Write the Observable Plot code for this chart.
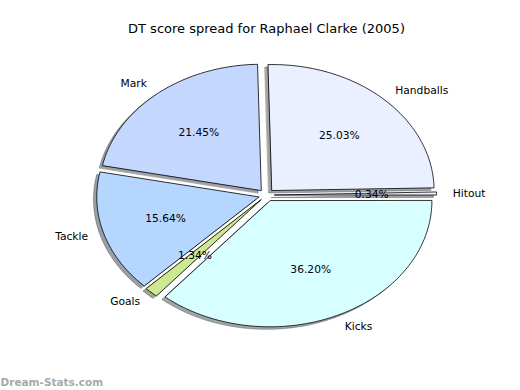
<!DOCTYPE html>
<html><head><meta charset="utf-8">
<script src="https://cdn.jsdelivr.net/npm/d3@7"></script>
<script src="https://cdn.jsdelivr.net/npm/@observablehq/plot@0.6"></script>
<style>body{margin:0;background:#fff;font-family:"DejaVu Sans",sans-serif;}</style>
</head><body><div id="chart"></div>
<script>
const labels = ["Hitout", "Handballs", "Mark", "Tackle", "Goals", "Kicks"];
const values = [0.34, 25.03, 21.45, 15.64, 1.34, 36.20];
const colors = ["#eef0f8", "#eaf0ff", "#c4d8ff", "#b4d6ff", "#cce890", "#d8ffff"];
const title = "DT score spread for Raphael Clarke (2005)";
const watermark = "Dream-Stats.com";
const explode = 0.05, labelDist = 1.1, pctDist = 0.6, shadowOff = -0.02;

const total = d3.sum(values);
let acc = 0;
const slices = values.map((v, i) => {
  const t1 = acc / total * 2 * Math.PI;
  acc += v;
  const t2 = acc / total * 2 * Math.PI;
  const tm = (t1 + t2) / 2;
  const ox = explode * Math.cos(tm), oy = explode * Math.sin(tm);
  const pts = [[ox, oy]];
  const n = Math.max(2, Math.ceil((t2 - t1) / (Math.PI / 180)));
  for (let k = 0; k <= n; k++) {
    const t = t1 + (t2 - t1) * k / n;
    pts.push([ox + Math.cos(t), oy + Math.sin(t)]);
  }
  return {label: labels[i], value: v, color: colors[i], tm, ox, oy, pts};
});

const marks = [];
for (const s of slices) {
  const c = d3.rgb(s.color);
  const sc = d3.rgb(c.r * 0.3, c.g * 0.3, c.b * 0.3);
  marks.push(Plot.line(s.pts, {x: d => d[0] + shadowOff, y: d => d[1] + shadowOff, curve: "linear-closed",
    fill: sc.formatHex(), fillOpacity: 0.5, stroke: sc.formatHex(), strokeOpacity: 0.5, strokeWidth: 0.8}));
}
for (const s of slices) {
  marks.push(Plot.line(s.pts, {x: d => d[0], y: d => d[1], curve: "linear-closed",
    fill: s.color, stroke: "#000", strokeWidth: 0.8}));
}
const labelData = slices.map(s => ({
  x: s.ox + labelDist * Math.cos(s.tm), y: s.oy + labelDist * Math.sin(s.tm), text: s.label
}));
const pctData = slices.map(s => ({
  x: s.ox + pctDist * Math.cos(s.tm), y: s.oy + pctDist * Math.sin(s.tm), text: s.value.toFixed(2) + "%"
}));
marks.push(Plot.text(labelData.filter(d => d.x > 0), {x: "x", y: "y", text: "text", textAnchor: "start", fontSize: 10.7, fill: "#000"}));
marks.push(Plot.text(labelData.filter(d => d.x <= 0), {x: "x", y: "y", text: "text", textAnchor: "end", fontSize: 10.7, fill: "#000"}));
marks.push(Plot.text(pctData, {x: "x", y: "y", text: "text", fontSize: 10.7, fill: "#000"}));
marks.push(Plot.text([title], {x: 0, y: 1.32, text: d => d, fontSize: 13, fill: "#000"}));
marks.push(Plot.text([watermark], {frameAnchor: "bottom-left", dx: 0, dy: -5, text: d => d, fontSize: 10.5, fontWeight: "bold", fill: "#a8a8a8"}));

const chart = Plot.plot({
  width: 520, height: 390,
  margin: 0,
  style: {fontFamily: "DejaVu Sans, sans-serif", background: "#fff"},
  x: {domain: [-1, 1], range: [104, 428], axis: null},
  y: {domain: [-1, 1], range: [320.6, 68.6], axis: null},
  marks
});
document.getElementById("chart").appendChild(chart);
</script></body></html>
